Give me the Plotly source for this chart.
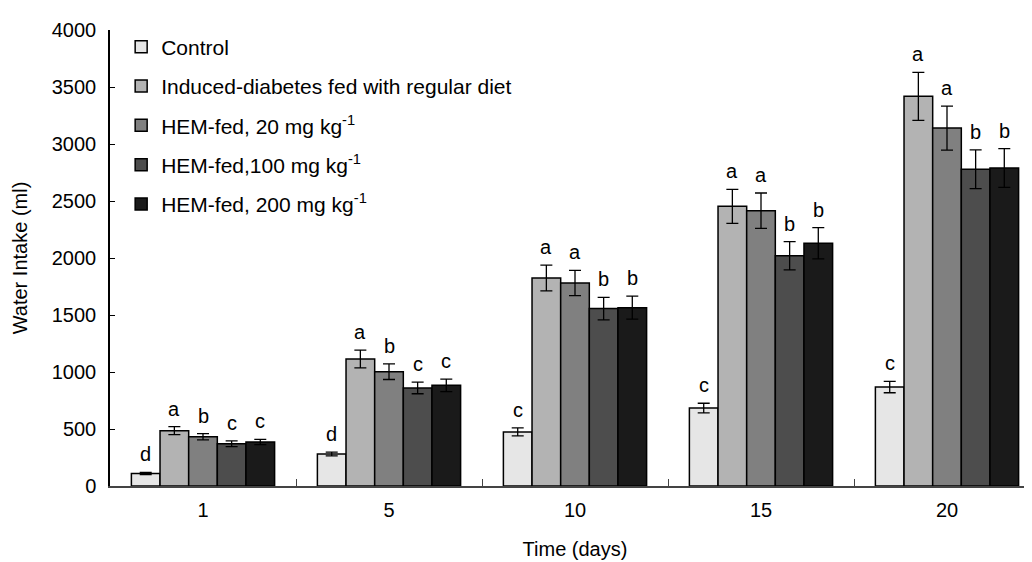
import plotly.graph_objects as go

days = ["1", "5", "10", "15", "20"]
series_names = [
    "Control",
    "Induced-diabetes fed with regular diet",
    "HEM-fed, 20 mg kg<sup>-1</sup>",
    "HEM-fed,100 mg kg<sup>-1</sup>",
    "HEM-fed, 200 mg kg<sup>-1</sup>",
]
control = [110, 281, 474, 684, 868]
induced = [485, 1114, 1825, 2453, 3418]
hem20 = [432, 1003, 1781, 2415, 3140]
hem100 = [371, 860, 1556, 2020, 2778]
hem200 = [386, 883, 1564, 2129, 2789]

control_err = [10, 17, 35, 42, 50]
induced_err = [35, 78, 113, 149, 210]
hem20_err = [28, 69, 111, 155, 193]
hem100_err = [25, 51, 98, 124, 170]
hem200_err = [23, 55, 101, 137, 170]

control_lbl = ["d", "d", "c", "c", "c"]
induced_lbl = ["a", "a", "a", "a", "a"]
hem20_lbl = ["b", "b", "a", "a", "a"]
hem100_lbl = ["c", "c", "b", "b", "b"]
hem200_lbl = ["c", "c", "b", "b", "b"]

colors = ["#e6e6e6", "#b3b3b3", "#808080", "#4d4d4d", "#1a1a1a"]

values = [control, induced, hem20, hem100, hem200]
errors = [control_err, induced_err, hem20_err, hem100_err, hem200_err]
labels = [control_lbl, induced_lbl, hem20_lbl, hem100_lbl, hem200_lbl]

W, H = 1032, 562
ML, MR, MT, MB = 102, 0, 22, 84
BARGAP = 0.23
FONT = "Liberation Sans, Arial, Helvetica, sans-serif"

fig = go.Figure()
for i, (name, vals, errs, col) in enumerate(zip(series_names, values, errors, colors)):
    fig.add_trace(go.Bar(
        x=days, y=vals, name=name, legendgroup=str(i),
        marker=dict(color=col, line=dict(color="black", width=1.5)),
        error_y=dict(type="data", array=errs, visible=True, color="black",
                     thickness=1.3, width=6),
    ))

plot_w = W - ML - MR
group_w = plot_w / len(days)
bar_w = group_w * (1 - BARGAP) / len(series_names)
n = len(series_names)
for i in range(n):
    shift = (i - (n - 1) / 2) * bar_w
    for j, d in enumerate(days):
        fig.add_annotation(
            x=j, y=values[i][j] + errors[i][j], xref="x", yref="y",
            text=labels[i][j], showarrow=False, xshift=shift, yshift=5,
            yanchor="bottom", font=dict(size=20, color="black", family=FONT),
        )

fig.update_layout(
    width=W, height=H,
    margin=dict(l=ML, r=MR, t=MT, b=MB),
    paper_bgcolor="white", plot_bgcolor="white",
    barmode="group", bargap=BARGAP, bargroupgap=0,
    font=dict(family=FONT, size=20, color="black"),
    showlegend=True,
    legend=dict(x=0.012, y=1.0075, xanchor="left", yanchor="top",
                bgcolor="rgba(0,0,0,0)", tracegroupgap=9,
                font=dict(size=21, family=FONT, color="black"),
                traceorder="grouped"),
    xaxis=dict(
        type="category",
        showline=True, linecolor="#444", linewidth=1.5,
        ticks="inside", tickson="boundaries", ticklen=7, tickcolor="#444",
        tickwidth=1.2, showgrid=False, ticklabelstandoff=5,
        title=dict(text="Time (days)", standoff=22,
                   font=dict(size=20, family=FONT)),
        tickfont=dict(size=20, family=FONT),
    ),
    yaxis=dict(
        range=[0, 4000], dtick=500, showline=True, linecolor="black",
        linewidth=1.5, ticks="inside", ticklen=5, tickcolor="black",
        tickwidth=1.2, showgrid=False, zeroline=False, ticklabelstandoff=8,
        title=dict(text="Water Intake (ml)", standoff=19,
                   font=dict(size=20, family=FONT)),
        tickfont=dict(size=20, family=FONT),
    ),
)

fig.write_html("out.html")
